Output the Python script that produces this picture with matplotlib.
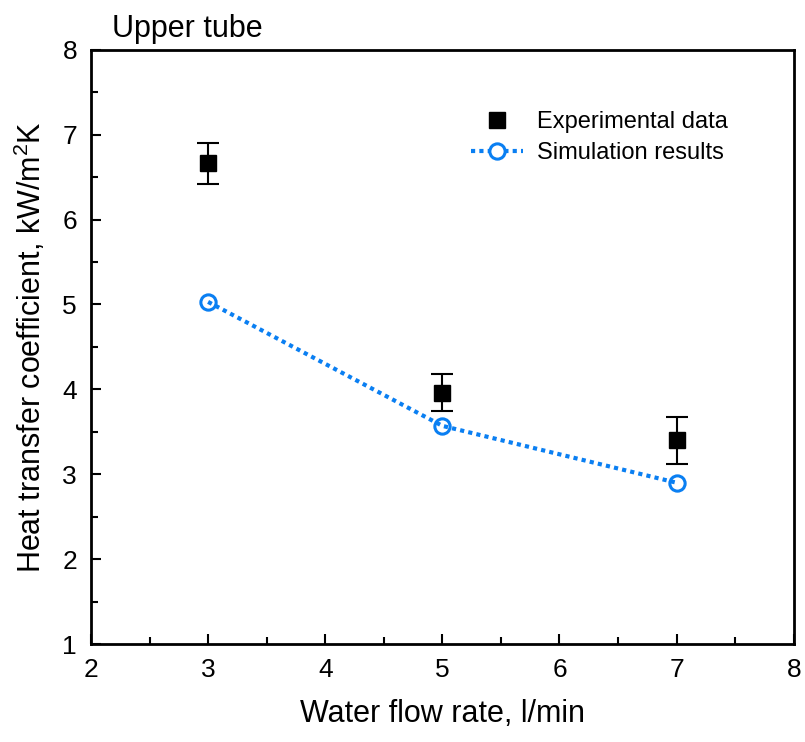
import matplotlib
matplotlib.use("Agg")
import matplotlib.pyplot as plt
from matplotlib.lines import Line2D
from matplotlib.ticker import MultipleLocator

plt.rcParams['font.family'] = ['Liberation Sans', 'DejaVu Sans']
plt.rcParams['mathtext.fontset'] = 'custom'
plt.rcParams['mathtext.rm'] = 'Liberation Sans'

# data
flow = [3, 5, 7]
exp_htc = [6.67, 3.96, 3.40]
exp_err_lo = [0.25, 0.22, 0.28]
exp_err_hi = [0.23, 0.22, 0.28]
sim_htc = [5.03, 3.57, 2.90]

blue = '#0a7ff2'

fig = plt.figure(figsize=(8.05, 7.42), dpi=100)
ax = fig.add_axes([0.113, 0.132, 0.873, 0.801])

ax.errorbar(flow, exp_htc, yerr=[exp_err_lo, exp_err_hi], fmt='s', color='black',
            markersize=11, ecolor='black', elinewidth=1.5, capsize=8, capthick=1.5,
            zorder=3)
# open circles first, dotted line on top of them (as in the reference)
ax.plot(flow, sim_htc, linestyle='none', marker='o', markersize=11,
        markerfacecolor='white', markeredgewidth=2.2, markeredgecolor=blue, zorder=2)
ax.plot(flow, sim_htc, linestyle=(0, (1, 1)), linewidth=3, color=blue, zorder=2.5)

ax.set_xlim(2, 8)
ax.set_ylim(1, 8)
ax.xaxis.set_major_locator(MultipleLocator(1))
ax.xaxis.set_minor_locator(MultipleLocator(0.5))
ax.yaxis.set_major_locator(MultipleLocator(1))
ax.yaxis.set_minor_locator(MultipleLocator(0.5))
ax.tick_params(which='both', direction='in', labelsize=19, top=False, right=False)
ax.tick_params(which='major', length=7, width=1.5, pad=10)
ax.tick_params(which='minor', length=5, width=1.5)
for s in ax.spines.values():
    s.set_linewidth(2)

ax.set_xlabel('Water flow rate, l/min', fontsize=22, labelpad=12)
ax.set_ylabel('Heat transfer coefficient, kW/m$^2$K', fontsize=22, labelpad=10)
ax.text(0.03, 1.01, 'Upper tube', transform=ax.transAxes, fontsize=22,
        ha='left', va='bottom')

handles = [
    Line2D([], [], linestyle='none', marker='s', color='black', markersize=11),
    Line2D([], [], linestyle=(0, (1, 1)), linewidth=3, color=blue, marker='o',
           markersize=11, markerfacecolor='white', markeredgewidth=2.2,
           markeredgecolor=blue),
]
labels = ['Experimental data', 'Simulation results']
ax.legend(handles, labels, loc='upper right', bbox_to_anchor=(0.937, 0.932),
          frameon=False, fontsize=17, handlelength=2.2, handletextpad=0.6,
          labelspacing=0.38)

plt.savefig('out.png', dpi=100)
plt.close()
